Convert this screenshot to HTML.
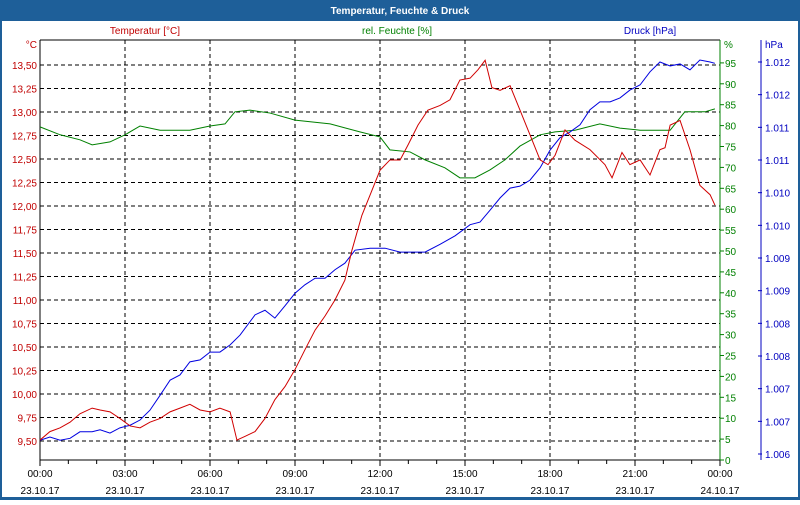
<!DOCTYPE html>
<html><head><meta charset="utf-8"><style>
body{margin:0;width:800px;height:500px;overflow:hidden;background:#fff;font-family:"Liberation Sans",sans-serif}
svg text{font-family:"Liberation Sans",sans-serif;font-size:10px}
</style></head><body>
<svg id="c" width="800" height="500">
<rect x="0" y="0" width="800" height="500" fill="#1e5f99"/>
<rect x="2" y="21" width="796" height="476" fill="#fff"/>
<text x="400" y="14" fill="#fff" font-weight="bold" text-anchor="middle">Temperatur, Feuchte &amp; Druck</text>
<text x="145" y="34" fill="#c00000" text-anchor="middle">Temperatur [°C]</text>
<text x="397" y="34" fill="#008000" text-anchor="middle">rel. Feuchte [%]</text>
<text x="650" y="34" fill="#0000c0" text-anchor="middle">Druck [hPa]</text>
<text x="37" y="48" fill="#c00000" text-anchor="end">°C</text>
<text x="724" y="48" fill="#008000">%</text>
<text x="765" y="48" fill="#0000c0">hPa</text>
<g id="g"></g>
</svg>
<script>
const tempTicks=[9.5,9.75,10,10.25,10.5,10.75,11,11.25,11.5,11.75,12,12.25,12.5,12.75,13,13.25,13.5];
const humTicks=[0,5,10,15,20,25,30,35,40,45,50,55,60,65,70,75,80,85,90,95];
const presTicks=[1.006,1.0065,1.007,1.0075,1.008,1.0085,1.009,1.0095,1.010,1.0105,1.011,1.0115,1.012];
const presLabels=["1.006","1.007","1.007","1.008","1.008","1.009","1.009","1.010","1.010","1.011","1.011","1.012","1.012"];
const timeTicks=[0,3,6,9,12,15,18,21,24];
const timeLabels=["00:00","03:00","06:00","09:00","12:00","15:00","18:00","21:00","00:00"];
const dateLabels=["23.10.17","23.10.17","23.10.17","23.10.17","23.10.17","23.10.17","23.10.17","23.10.17","24.10.17"];
const tempTime=[0,.35,.71,1.06,1.41,1.84,2.12,2.47,2.82,3.18,3.53,3.88,4.24,4.59,4.94,5.29,5.65,6,6.35,6.71,6.95,7.24,7.59,7.94,8.29,8.65,9,9.35,9.71,10.06,10.41,10.76,11.01,11.36,11.72,12,12.35,12.71,12.99,13.34,13.69,14.12,14.47,14.82,15.18,15.46,15.71,15.95,16.24,16.59,16.94,17.29,17.65,17.93,18.18,18.53,18.88,19.41,19.94,20.19,20.54,20.82,21.18,21.53,21.88,22.06,22.24,22.59,22.94,23.29,23.65,23.82];
const tempVals=[9.51,9.60,9.64,9.70,9.79,9.85,9.83,9.81,9.74,9.66,9.64,9.70,9.74,9.81,9.85,9.89,9.83,9.81,9.85,9.81,9.51,9.55,9.60,9.74,9.94,10.08,10.26,10.47,10.68,10.83,11.00,11.21,11.53,11.90,12.17,12.38,12.49,12.49,12.65,12.86,13.02,13.07,13.13,13.34,13.36,13.45,13.55,13.26,13.23,13.28,13.02,12.76,12.49,12.44,12.54,12.81,12.70,12.60,12.44,12.30,12.57,12.44,12.49,12.33,12.60,12.62,12.86,12.91,12.60,12.22,12.12,12.01];
const humTime=[0,.71,1.41,1.84,2.47,3.0,3.53,4.24,5.29,6,6.53,6.88,7.41,8.12,9,10.24,11.29,12,12.35,13.06,13.59,14.29,14.82,15.35,15.88,16.41,16.94,17.65,18.18,18.88,19.76,20.47,21.18,21.88,22.24,22.76,23.47,23.82];
const humVals=[79.7,77.8,76.6,75.4,76.1,77.8,79.9,78.9,78.9,79.9,80.4,83.3,83.7,83.0,81.3,80.4,78.5,77.3,74.2,73.7,71.8,69.9,67.5,67.5,69.4,71.8,75.1,77.8,78.5,78.9,80.4,79.4,78.9,78.9,78.9,83.3,83.3,84.0];
const presTime=[0,.35,.71,1.06,1.41,1.84,2.12,2.47,2.82,3.18,3.53,3.88,4.24,4.59,4.94,5.29,5.65,6,6.35,6.71,7.06,7.59,7.94,8.29,8.65,9,9.35,9.71,10.06,10.41,10.76,11.12,11.65,12.18,12.71,13.59,14.12,14.65,15.18,15.53,15.88,16.24,16.59,16.94,17.29,17.65,18,18.35,18.71,19.06,19.41,19.76,20.12,20.47,20.82,21.18,21.53,21.88,22.24,22.59,22.94,23.29,23.65,23.82];
const presVals=[1.00621,1.00626,1.00621,1.00624,1.00634,1.00634,1.00637,1.00632,1.00640,1.00644,1.00652,1.00667,1.00690,1.00713,1.00721,1.00741,1.00744,1.00756,1.00756,1.00767,1.00782,1.00813,1.00820,1.00808,1.00827,1.00846,1.00859,1.00869,1.00869,1.00882,1.00892,1.00912,1.00915,1.00915,1.00909,1.00909,1.00921,1.00934,1.00951,1.00955,1.00973,1.00992,1.01007,1.01010,1.01019,1.01038,1.01065,1.01084,1.01093,1.01104,1.01127,1.01139,1.01139,1.01145,1.01157,1.01165,1.01185,1.01200,1.01194,1.01197,1.01188,1.01203,1.01200,1.01198];

const L=40,R=720,T=40,B=460;
const xS=h=>L+h*(R-L)/24;
const yT=v=>441-(v-9.5)*94;
const yH=v=>460-v*4.18;
const yP=v=>454-(v-1.006)*65333;
const NS="http://www.w3.org/2000/svg",g=document.getElementById('g');
function mk(t,a,txt){const e=document.createElementNS(NS,t);for(const k in a)e.setAttribute(k,a[k]);if(txt!==undefined)e.textContent=txt;g.appendChild(e);return e;}
tempTicks.forEach((v,i)=>{const y=yT(v);
 const l=mk('line',{x1:L,x2:R,y1:y,y2:y,stroke:'#000','stroke-dasharray':'4,3'});
 
 
 const t=mk('text',{x:37,y:y+4,fill:'#c00000','text-anchor':'end'},v.toFixed(2).replace('.',','));
 
 
});
timeTicks.forEach((h,i)=>{const x=xS(h);
 if(i>0&&i<8){const l=mk('line',{x1:x,x2:x,y1:T,y2:B,stroke:'#000','stroke-dasharray':'4,3'});
 
 }
 const t=mk('text',{x:x,y:477,fill:'#000','text-anchor':'middle'},timeLabels[i]);
 
 
 const d=mk('text',{x:x,y:494,fill:'#000','text-anchor':'middle'},dateLabels[i]);
 
 
});
for(let h=0;h<=24;h++){const x=xS(h);mk('line',{x1:x,x2:x,y1:B,y2:B+(h%3?4:6),stroke:'#000'});}
humTicks.forEach(v=>{const y=yH(v);
 mk('line',{x1:R,x2:R+4,y1:y,y2:y,stroke:'#008000'});
 const t=mk('text',{x:725,y:y+4,fill:'#008000'},String(v));
 
 
});
presTicks.forEach((v,i)=>{const y=yP(v);
 mk('line',{x1:758,x2:762,y1:y,y2:y,stroke:'#0000c0'});
 const t=mk('text',{x:765,y:y+4,fill:'#0000c0'},presLabels[i]);
 
 
});
const ax=[[L,T,L,B,'#000','left-axis'],[L,T,R,T,'#000','top-border'],[L,B,R,B,'#000','x-axis'],[R,T,R,B,'#008000','humidity-axis'],[761,T,761,B,'#0000c0','pressure-axis']];
ax.forEach(a=>{const l=mk('line',{x1:a[0],y1:a[1],x2:a[2],y2:a[3],stroke:a[4]});
 
 });
function line(ts,vs,yf,col,name){const p=mk('polyline',{points:ts.map((t,i)=>xS(t)+','+yf(vs[i])).join(' '),fill:'none',stroke:col,'stroke-width':1});
 
 }
line(humTime,humVals,yH,'#008000','humidity-line');
line(presTime,presVals,yP,'#0000e0','pressure-line');
line(tempTime,tempVals,yT,'#d00000','temperature-line');
</script>
</body></html>
